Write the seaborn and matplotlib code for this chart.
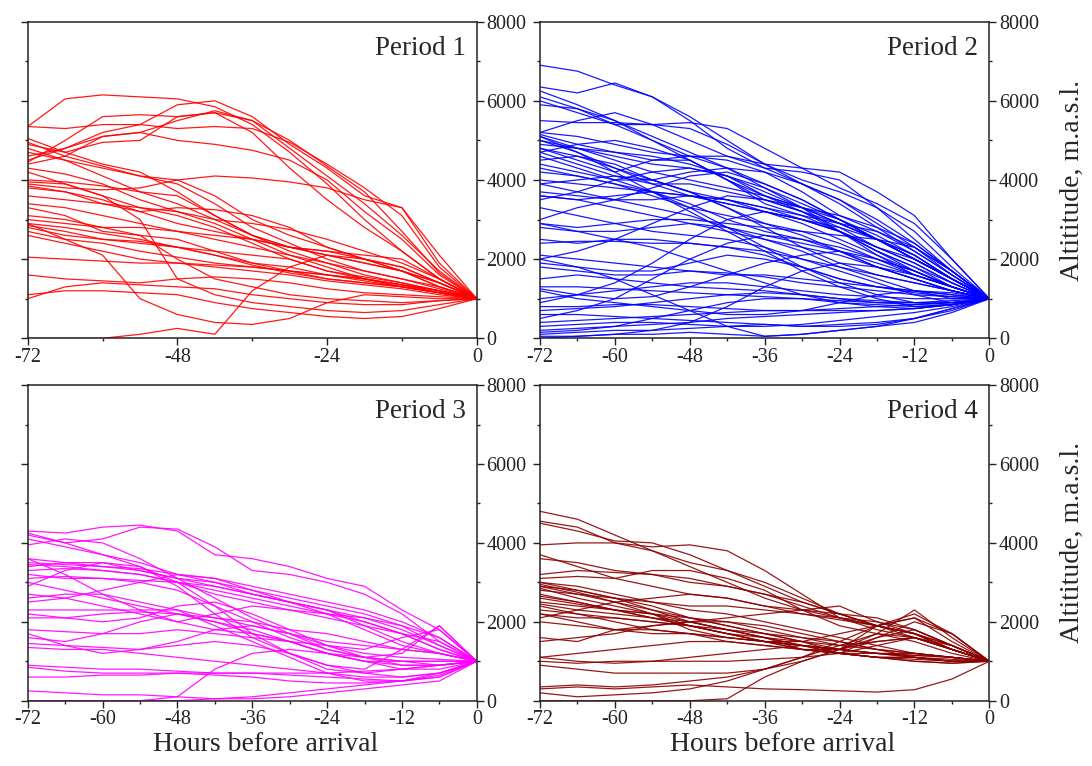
import pandas as pd
import matplotlib
matplotlib.use('Agg')
import matplotlib.pyplot as plt
import seaborn as sns
from matplotlib.ticker import MultipleLocator

HOURS = [-72, -66, -60, -54, -48, -42, -36, -30, -24, -18, -12, -6, 0]

PERIOD_1 = [
    [5350, 6050, 6150, 6100, 6050, 5850, 5400, 4700, 3900, 3000, 2200, 1500, 1000],
    [4450, 5000, 5600, 5650, 5600, 5700, 5500, 5000, 4350, 3700, 2700, 1650, 1000],
    [4600, 4800, 5200, 5400, 5900, 6000, 5600, 4900, 4300, 3600, 3300, 1900, 1000],
    [5350, 5300, 5400, 5400, 5300, 5350, 5300, 4950, 4400, 3800, 3100, 1800, 1000],
    [4500, 4800, 5100, 5200, 5500, 5750, 5500, 4800, 4100, 3400, 2600, 1700, 1000],
    [4900, 4700, 4950, 5000, 5600, 5700, 5200, 4300, 3500, 2800, 2200, 1500, 1000],
    [4400, 4600, 5100, 5200, 5000, 4900, 4750, 4500, 4000, 3200, 2500, 1600, 1000],
    [4700, 4500, 4300, 4100, 4000, 4100, 4050, 3950, 3800, 3500, 3300, 2100, 1000],
    [5050, 4700, 4400, 4200, 3700, 3100, 2600, 2300, 2100, 1900, 1700, 1400, 1000],
    [4950, 4600, 4350, 4100, 3900, 3400, 2800, 2400, 2000, 1700, 1500, 1300, 1000],
    [4800, 4500, 4100, 3700, 3400, 3000, 2600, 2200, 1900, 1600, 1400, 1200, 1000],
    [4300, 4150, 3900, 3500, 3200, 2900, 2500, 2100, 1800, 1500, 1300, 1150, 1000],
    [4000, 3950, 3850, 3700, 3600, 3100, 2600, 2300, 2100, 1900, 1700, 1400, 1000],
    [3950, 3900, 3600, 3300, 3100, 2800, 2400, 2000, 1700, 1550, 1400, 1200, 1000],
    [3900, 3800, 3750, 3800, 4000, 3600, 3000, 2600, 2300, 2000, 1800, 1400, 1000],
    [3850, 3700, 3500, 3200, 2900, 2700, 2500, 2300, 2200, 2000, 1800, 1400, 1000],
    [3800, 3700, 3400, 3200, 3300, 3250, 3100, 2800, 2300, 2000, 1700, 1300, 1000],
    [3600, 3500, 3400, 3300, 3200, 3000, 2900, 2750, 2500, 2200, 1900, 1500, 1000],
    [3400, 3300, 3100, 2900, 2700, 2500, 2300, 2100, 1900, 1700, 1500, 1250, 1000],
    [3100, 3000, 2800, 2600, 2500, 2200, 1900, 1700, 1500, 1400, 1300, 1150, 1000],
    [3000, 2900, 2800, 2800, 2700, 2600, 2500, 2300, 2200, 2100, 2000, 1500, 1000],
    [2900, 2800, 2650, 2500, 2300, 2100, 1850, 1650, 1500, 1400, 1300, 1150, 1000],
    [2850, 2700, 2500, 2400, 2300, 2200, 2100, 2000, 1700, 1500, 1350, 1200, 1000],
    [2800, 2600, 2500, 2450, 2300, 2100, 1900, 1800, 1600, 1500, 1350, 1150, 1000],
    [2700, 2500, 2400, 2200, 2050, 1900, 1800, 1700, 1600, 1450, 1300, 1150, 1000],
    [2600, 2400, 2200, 2000, 1900, 1800, 1700, 1600, 1450, 1350, 1250, 1100, 1000],
    [3300, 3100, 2700, 2600, 2000, 1500, 1300, 1100, 1000, 950, 900, 950, 1000],
    [4200, 3900, 3600, 3000, 1500, 1100, 900, 800, 700, 650, 700, 850, 1000],
    [2050, 2000, 1950, 1900, 1900, 1850, 1800, 1700, 1600, 1500, 1350, 1200, 1000],
    [1600, 1500, 1450, 1400, 1500, 1550, 1500, 1400, 1250, 1150, 1100, 1050, 1000],
    [1000, 1300, 1400, 1350, 1300, 1250, 1100, 1000, 900, 850, 850, 950, 1000],
    [1100, 1200, 1200, 1150, 1100, 900, 750, 650, 550, 500, 550, 750, 1000],
    [0, 0, 0, 100, 250, 100, 1200, 1800, 2100, 2000, 1700, 1300, 1000],
    [2900, 2500, 2100, 1000, 600, 400, 350, 500, 900, 1100, 1050, 1000, 1000],
]

PERIOD_2 = [
    [6900, 6750, 6400, 6100, 5600, 5000, 4400, 3900, 3400, 2800, 2200, 1600, 1000],
    [6350, 6200, 6450, 6100, 5500, 4800, 4300, 3900, 3500, 3000, 2400, 1700, 1000],
    [6250, 5900, 5500, 5100, 4700, 4300, 3900, 3500, 3000, 2500, 2000, 1500, 1000],
    [6000, 5700, 5400, 5400, 5450, 5300, 4800, 4300, 3800, 3400, 2900, 2000, 1000],
    [5900, 5800, 5500, 5000, 4500, 4000, 3600, 3300, 3000, 2600, 2100, 1500, 1000],
    [5500, 5450, 5450, 5400, 5300, 4900, 4400, 4300, 4200, 3700, 3100, 2000, 1000],
    [5200, 5500, 5700, 5400, 5000, 4600, 4300, 4200, 4000, 3300, 2700, 1800, 1000],
    [5150, 4900, 4700, 4500, 4600, 4500, 4200, 3700, 3100, 2700, 2300, 1700, 1000],
    [5100, 4800, 4500, 4200, 4000, 3800, 3600, 3300, 2900, 2500, 2000, 1500, 1000],
    [5000, 4700, 4300, 3900, 3600, 3400, 3200, 2900, 2500, 2100, 1700, 1300, 1000],
    [4900, 4800, 4700, 4600, 4400, 4100, 3800, 3400, 3000, 2500, 2000, 1500, 1000],
    [4800, 4600, 4300, 4000, 3700, 3300, 2900, 2600, 2200, 1800, 1500, 1200, 1000],
    [4700, 4400, 4100, 3900, 3900, 3700, 3500, 3200, 2800, 2300, 1900, 1400, 1000],
    [4600, 4300, 4000, 3700, 3400, 3000, 2700, 2500, 2300, 2000, 1700, 1300, 1000],
    [4500, 4600, 4400, 4000, 3700, 3500, 3300, 3000, 2700, 2300, 2000, 1500, 1000],
    [4400, 4200, 4000, 4000, 4200, 4300, 4200, 3900, 3500, 2900, 2300, 1600, 1000],
    [4200, 4100, 3900, 3600, 3300, 3100, 2900, 2700, 2400, 2000, 1600, 1300, 1000],
    [4000, 3900, 3800, 3700, 3600, 3500, 3300, 3100, 2700, 2200, 1800, 1400, 1000],
    [3900, 4000, 4100, 4000, 3700, 3300, 2800, 2300, 1900, 1600, 1400, 1200, 1000],
    [3700, 3600, 3500, 3500, 3600, 3500, 3200, 3000, 2800, 2500, 2100, 1500, 1000],
    [3600, 3500, 3300, 3100, 2900, 2700, 2500, 2300, 2100, 1800, 1500, 1200, 1000],
    [3000, 3300, 3500, 3800, 4100, 4200, 3900, 3500, 3000, 2500, 2000, 1500, 1000],
    [2900, 2800, 2900, 3000, 3000, 2900, 2800, 2700, 2600, 2500, 2300, 1700, 1000],
    [2800, 2700, 2700, 2800, 2900, 2800, 2600, 2400, 2200, 1900, 1600, 1300, 1000],
    [2500, 2400, 2500, 2500, 2400, 2300, 2200, 2000, 1800, 1600, 1400, 1200, 1000],
    [2400, 2450, 2450, 2400, 2400, 2300, 2100, 1800, 1500, 1300, 1150, 1050, 1000],
    [2000, 2200, 2500, 2900, 3300, 3600, 3500, 3200, 2900, 2500, 2000, 1500, 1000],
    [1900, 1800, 1700, 1700, 1900, 2100, 2000, 1800, 1500, 1300, 1200, 1100, 1000],
    [1800, 1700, 1600, 1600, 1700, 1650, 1550, 1400, 1300, 1200, 1100, 1050, 1000],
    [1500, 1600, 1500, 1400, 1300, 1250, 1200, 1100, 1000, 900, 850, 900, 1000],
    [1300, 1300, 1250, 1200, 1150, 1100, 1050, 1000, 900, 850, 800, 850, 1000],
    [1250, 1100, 1000, 1050, 1300, 1600, 1900, 2100, 2200, 2000, 1700, 1300, 1000],
    [900, 1100, 1400, 1900, 2500, 3000, 3200, 3000, 2700, 2300, 1900, 1400, 1000],
    [800, 800, 850, 850, 800, 750, 700, 700, 750, 800, 850, 900, 1000],
    [700, 750, 800, 900, 1000, 1100, 1150, 1100, 1000, 950, 900, 900, 1000],
    [500, 700, 1000, 1500, 2000, 2400, 2600, 2500, 2200, 1800, 1500, 1200, 1000],
    [400, 450, 500, 550, 600, 650, 700, 700, 700, 700, 750, 850, 1000],
    [300, 350, 400, 400, 350, 300, 300, 350, 450, 550, 650, 800, 1000],
    [200, 250, 300, 350, 400, 500, 550, 600, 650, 700, 750, 850, 1000],
    [100, 150, 200, 200, 250, 300, 350, 300, 300, 350, 500, 750, 1000],
    [50, 50, 100, 100, 150, 100, 50, 100, 200, 300, 500, 750, 1000],
    [0, 50, 100, 200, 400, 800, 1300, 1700, 1900, 1800, 1600, 1300, 1000],
    [3500, 3700, 4000, 4200, 4300, 4100, 3700, 3300, 2900, 2500, 2100, 1500, 1000],
    [5000, 4800, 4600, 4400, 4300, 4100, 3600, 3200, 2700, 2200, 1800, 1300, 1000],
    [6100, 5800, 5400, 5000, 4600, 4300, 3800, 3300, 2700, 2100, 1600, 1300, 1000],
    [4800, 4500, 4200, 4500, 4500, 4000, 3400, 3100, 2900, 2700, 2200, 1600, 1000],
    [3900, 3700, 3500, 3300, 3100, 2800, 2500, 2200, 1800, 1500, 1200, 1000, 1000],
    [2900, 2700, 2500, 2300, 2000, 1700, 1400, 1100, 900, 800, 750, 850, 1000],
    [4300, 4100, 3900, 3700, 3300, 2800, 2300, 1800, 1400, 1100, 900, 850, 1000],
    [5100, 4700, 4200, 3700, 3200, 2700, 2200, 1700, 1300, 1000, 800, 850, 1000],
    [1000, 1100, 1200, 1300, 1400, 1400, 1300, 1200, 1100, 1050, 1000, 1000, 1000],
    [600, 600, 550, 500, 450, 400, 350, 300, 350, 400, 500, 700, 1000],
    [2000, 1800, 1500, 1100, 700, 300, 50, 100, 200, 300, 400, 650, 1000],
    [1200, 1000, 900, 800, 700, 600, 600, 700, 900, 1100, 1200, 1150, 1000],
    [3600, 3500, 3600, 3700, 3600, 3400, 3200, 3000, 2700, 2200, 1700, 1300, 1000],
    [4700, 4900, 5000, 4800, 4500, 4000, 3500, 3300, 3100, 2800, 2400, 1700, 1000],
    [2100, 2000, 1900, 1800, 1700, 1600, 1600, 1500, 1400, 1300, 1200, 1100, 1000],
    [5200, 5100, 4900, 4700, 4600, 4600, 4400, 4000, 3700, 3300, 2500, 1700, 1000],
    [3300, 3100, 2900, 2700, 2600, 2500, 2300, 2000, 1700, 1400, 1100, 900, 1000],
    [150, 200, 300, 500, 700, 900, 1000, 1000, 950, 900, 900, 950, 1000],
]

PERIOD_3 = [
    [4300, 4250, 4400, 4450, 4300, 3700, 3600, 3400, 3100, 2900, 2300, 1800, 1000],
    [4200, 4000, 4100, 4400, 4350, 3900, 3300, 3200, 3000, 2700, 2200, 1500, 1000],
    [4100, 3900, 3700, 3500, 3200, 3000, 2800, 2600, 2400, 2200, 1900, 1400, 1000],
    [3950, 4100, 4000, 3600, 3100, 2600, 2100, 1700, 1400, 1200, 1100, 1050, 1000],
    [3600, 3500, 3500, 3300, 3100, 3000, 2700, 2500, 2300, 2100, 1800, 1400, 1000],
    [3500, 3450, 3400, 3350, 3200, 3100, 2800, 2500, 2300, 2000, 1700, 1300, 1000],
    [3450, 3400, 3300, 3200, 3000, 2800, 2600, 2400, 2200, 2000, 1700, 1300, 1000],
    [3400, 3500, 3400, 3300, 3100, 2900, 2700, 2500, 2300, 1900, 1500, 1200, 1000],
    [3300, 3350, 3300, 3200, 3000, 2900, 2700, 2500, 2200, 1800, 1400, 1200, 1000],
    [3200, 3100, 3100, 3050, 3000, 2700, 2500, 2300, 2100, 1900, 1700, 1500, 1000],
    [3100, 3150, 3100, 3000, 2800, 2400, 2000, 1600, 1300, 1100, 1000, 1000, 1000],
    [2900, 3300, 3500, 3400, 3000, 2400, 1700, 1200, 800, 700, 800, 900, 1000],
    [2700, 2600, 2400, 2200, 2000, 2200, 2400, 2300, 2200, 2100, 1900, 1600, 1000],
    [2600, 2700, 2700, 2500, 2300, 1900, 1500, 1100, 700, 500, 500, 700, 1000],
    [2300, 2300, 2300, 2300, 2300, 2100, 1900, 1700, 1500, 1400, 1300, 1200, 1000],
    [2200, 2100, 2000, 2100, 2400, 2500, 2200, 1800, 1400, 1100, 900, 900, 1000],
    [2100, 2100, 2200, 2250, 2200, 2100, 2000, 1800, 1700, 1500, 1300, 1200, 1000],
    [1800, 1750, 1700, 1700, 1800, 1700, 1600, 1500, 1200, 1000, 1000, 1000, 1000],
    [1700, 1400, 1200, 1300, 1500, 1800, 1900, 1700, 1300, 1100, 1200, 1900, 1000],
    [1450, 1400, 1350, 1300, 1400, 1500, 1400, 1200, 900, 800, 1300, 1900, 1000],
    [1350, 1300, 1300, 1200, 1100, 1000, 900, 800, 700, 600, 600, 700, 1000],
    [900, 850, 800, 800, 750, 700, 700, 650, 600, 550, 500, 600, 1000],
    [850, 750, 700, 700, 700, 700, 700, 700, 700, 750, 800, 900, 1000],
    [600, 600, 650, 650, 700, 650, 600, 500, 450, 450, 500, 600, 1000],
    [250, 200, 150, 150, 100, 50, 50, 100, 200, 300, 400, 500, 1000],
    [0, 0, 0, 0, 0, 50, 100, 200, 300, 400, 500, 650, 1000],
    [0, 0, 0, 0, 100, 800, 1200, 1300, 1200, 1100, 1000, 900, 1000],
    [3600, 3200, 2700, 2300, 2000, 1800, 1700, 1500, 1200, 1000, 900, 900, 1000],
    [4250, 4000, 3700, 3400, 2900, 2200, 1600, 1200, 900, 700, 600, 700, 1000],
    [2500, 2600, 2800, 3000, 3200, 3100, 2900, 2700, 2500, 2300, 2000, 1600, 1000],
    [1600, 1500, 1700, 2000, 2200, 2000, 1700, 1500, 1400, 1300, 1600, 1800, 1000],
    [3000, 2800, 2600, 2400, 2200, 2000, 1800, 1500, 1200, 1000, 800, 800, 1000],
]

PERIOD_4 = [
    [4800, 4600, 4200, 3800, 3400, 3000, 2600, 2300, 2100, 1900, 1700, 1400, 1000],
    [4550, 4400, 4000, 3800, 3500, 3300, 3000, 2600, 2200, 1900, 1700, 1400, 1000],
    [4500, 4300, 4050, 4000, 3700, 3300, 2900, 2500, 2200, 1900, 1700, 1300, 1000],
    [3950, 4000, 4000, 3900, 3950, 3800, 3300, 2700, 2100, 1800, 1600, 1300, 1000],
    [3700, 3400, 3100, 2900, 2700, 2600, 2400, 2200, 2050, 1900, 1700, 1300, 1000],
    [3200, 3300, 3250, 3200, 3000, 2900, 2700, 2500, 2200, 1900, 1600, 1300, 1000],
    [3100, 3150, 3100, 3300, 3300, 3100, 2800, 2300, 1900, 1700, 1500, 1200, 1000],
    [3000, 2800, 2600, 2300, 2100, 1900, 1700, 1500, 1300, 1200, 1150, 1100, 1000],
    [2900, 2700, 2500, 2300, 2000, 1800, 1600, 1400, 1200, 1100, 1100, 1050, 1000],
    [2850, 2600, 2400, 2200, 2000, 1800, 1600, 1400, 1300, 1200, 1150, 1100, 1000],
    [2800, 2700, 2600, 2400, 2100, 1900, 1700, 1500, 1200, 1200, 1200, 1100, 1000],
    [2700, 2500, 2300, 2200, 2100, 2000, 1800, 1600, 1400, 1300, 1200, 1100, 1000],
    [2600, 2450, 2300, 2200, 1800, 1600, 1500, 1500, 1700, 1900, 2100, 1500, 1000],
    [2500, 2400, 2300, 2100, 1900, 1700, 1500, 1300, 1200, 1600, 2000, 1700, 1000],
    [2400, 2200, 2000, 1800, 1700, 1500, 1400, 1300, 1300, 1700, 2300, 1600, 1000],
    [2300, 2200, 2100, 2000, 1900, 1800, 1700, 1600, 1500, 1300, 1200, 1100, 1000],
    [2200, 2100, 2100, 2000, 1900, 1700, 1600, 1300, 1200, 1100, 1100, 1000, 1000],
    [2100, 2300, 2500, 2600, 2700, 2600, 2400, 2300, 2200, 2100, 1800, 1400, 1000],
    [2000, 1900, 1800, 1800, 1700, 1600, 1500, 1400, 1300, 1900, 2200, 1700, 1000],
    [1600, 1500, 1800, 1900, 2000, 2100, 2200, 2300, 2400, 2000, 1700, 1300, 1000],
    [2900, 2800, 2600, 2500, 2400, 2400, 2300, 2200, 2100, 2000, 1800, 1400, 1000],
    [1500, 1600, 1700, 1900, 2000, 2000, 1900, 1700, 1500, 1300, 1100, 1000, 1000],
    [1100, 1200, 1300, 1400, 1500, 1500, 1400, 1300, 1200, 1100, 1000, 950, 1000],
    [1000, 950, 1000, 1000, 1000, 1000, 1050, 1100, 1200, 1400, 1600, 1400, 1000],
    [900, 800, 700, 700, 700, 700, 800, 1100, 1500, 1900, 2100, 1700, 1000],
    [350, 400, 350, 400, 500, 600, 800, 1000, 1300, 1600, 1800, 1400, 1000],
    [300, 350, 300, 350, 400, 350, 300, 280, 250, 220, 280, 550, 1000],
    [200, 100, 150, 200, 300, 500, 800, 1100, 1400, 1700, 1600, 1300, 1000],
    [0, 0, 0, 0, 0, 50, 600, 1000, 1300, 1500, 1600, 1300, 1000],
    [1100, 1000, 950, 1000, 1100, 1200, 1300, 1400, 1300, 1200, 1100, 1000, 1000],
    [2650, 2500, 2300, 2100, 1900, 1700, 1500, 1400, 1200, 1100, 1000, 950, 1000],
    [2950, 2750, 2500, 2200, 1900, 1700, 1500, 1300, 1200, 1100, 1050, 1000, 1000],
    [2200, 2000, 1800, 1700, 1700, 1600, 1500, 1400, 1300, 1200, 1100, 1000, 1000],
    [3000, 2900, 2700, 2500, 2300, 2200, 2000, 1800, 1600, 1400, 1200, 1100, 1000],
    [2450, 2300, 2200, 2100, 2000, 1800, 1600, 1500, 1400, 1500, 1600, 1300, 1000],
    [3600, 3500, 3300, 3200, 3100, 2900, 2700, 2400, 2100, 1900, 1700, 1300, 1000],
]

PERIODS = ['Period 1', 'Period 2', 'Period 3', 'Period 4']
COLORS = ['#ff0000', '#0000ff', '#ff00ff', '#8b0000']


def to_frame(trajs):
    rows = []
    for i, alt in enumerate(trajs):
        for h, a in zip(HOURS, alt):
            rows.append((i, h, a))
    return pd.DataFrame(rows, columns=['traj', 'hour', 'alt'])


sns.set_style('ticks')
plt.rcParams['font.family'] = ['Liberation Serif', 'DejaVu Serif']
plt.rcParams['axes.unicode_minus'] = False
plt.rcParams['axes.linewidth'] = 1.1
plt.rcParams['axes.edgecolor'] = '#222222'

fig = plt.figure(figsize=(10.92, 7.66), dpi=100)

boxes = [
    [0.0254, 0.5584, 0.4112, 0.4133],
    [0.4945, 0.5584, 0.4115, 0.4133],
    [0.0254, 0.0852, 0.4112, 0.4121],
    [0.4945, 0.0852, 0.4115, 0.4121],
]
data = [PERIOD_1, PERIOD_2, PERIOD_3, PERIOD_4]

for k in range(4):
    ax = fig.add_axes(boxes[k])
    df = to_frame(data[k])
    sns.lineplot(data=df, x='hour', y='alt', units='traj', estimator=None,
                 color=COLORS[k], lw=0.9, alpha=0.9, legend=False, ax=ax)
    ax.set_xlim(-72, 0)
    ax.set_ylim(0, 8000)
    if k == 0:
        ax.xaxis.set_major_locator(MultipleLocator(24))
        ax.xaxis.set_minor_locator(MultipleLocator(12))
    else:
        ax.xaxis.set_major_locator(MultipleLocator(12))
        ax.xaxis.set_minor_locator(MultipleLocator(6))
    ax.yaxis.set_major_locator(MultipleLocator(2000))
    ax.yaxis.set_minor_locator(MultipleLocator(1000))

    ax.tick_params(which='both', direction='out', width=1.0, colors='#222222',
                   labelsize=14.5, pad=2)
    ax.tick_params(which='major', length=5)
    ax.tick_params(which='minor', length=2.5)
    ax.tick_params(axis='y', which='both', left=True, right=True,
                   labelleft=False, labelright=True)
    ax.tick_params(axis='x', which='both', top=False, bottom=True)
    for sp in ax.spines.values():
        sp.set_visible(True)

    ax.text(0.975, 0.955, PERIODS[k], transform=ax.transAxes,
            ha='right', va='top', fontsize=19.5)

    if k >= 2:
        ax.set_xlabel('Hours before arrival', fontsize=20)
        ax.xaxis.set_label_coords(0.53 if k == 2 else 0.54, -0.14)
        ax.xaxis.label.set_va('center')
    else:
        ax.set_xlabel('')
    if k % 2 == 1:
        ax.yaxis.set_label_position('right')
        ax.set_ylabel('Altititude, m.a.s.l.', fontsize=20)
        ax.yaxis.set_label_coords(1.185, 0.5)
        ax.yaxis.label.set_va('center')
    else:
        ax.set_ylabel('')

fig.savefig('out.png', dpi=100)
